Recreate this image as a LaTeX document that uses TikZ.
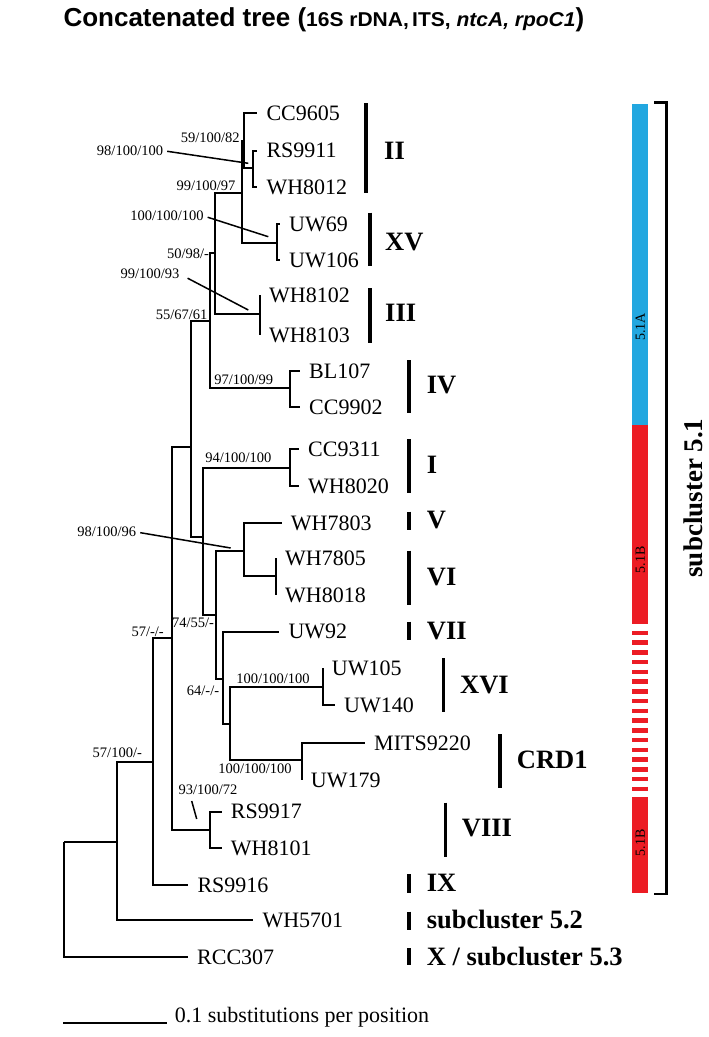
\documentclass[tikz,border=0pt]{standalone}
\usepackage{fontspec}
\setmainfont{Liberation Serif}
\newfontfamily\titlefont{Liberation Sans}
\newfontfamily\titlesmall[FakeStretch=1.05]{Liberation Sans}
\usetikzlibrary{positioning}
\definecolor{barblue}{RGB}{34,167,224}
\definecolor{barred}{RGB}{236,28,36}

\tikzset{
  branch/.style={line width=2pt},
  callout/.style={line width=1.5pt},
  cladebar/.style={line width=3.4pt},
  taxon/.style={anchor=west, font=\fontsize{22}{26}\selectfont, inner xsep=9pt, inner ysep=0pt, text height=14.5pt, text depth=0pt},
  support/.style={font=\fontsize{14.5}{17}\selectfont, inner sep=0pt, text height=9.6pt, text depth=0pt},
  clade/.style={anchor=west, font=\fontsize{26.5}{30}\selectfont\bfseries, inner sep=0pt, text height=17.4pt, text depth=0pt},
  barlabel/.style={rotate=90, font=\fontsize{14}{16}\selectfont, inner sep=0pt},
}

\begin{document}
\begin{tikzpicture}[x=1pt,y=-1pt]
\useasboundingbox (0,0) rectangle (709,1037);

% title
\node[anchor=base west, inner sep=0pt] (title) at (63.3,26.7)
  {\titlefont\bfseries\fontsize{26}{30}\selectfont Concatenated tree ({\titlesmall\fontsize{20}{22}\selectfont 16S rDNA,\,ITS, \itshape ntcA, rpoC1})};

% internal nodes (at the stem)
\coordinate (root) at (64,841.7);
\coordinate (n117) at (117.3,841.7);
\coordinate (n152) at (152.7,762.3);
\coordinate (n171) at (171.7,638);
\coordinate (n191) at (191,446.7);
\coordinate (n210) at (210,320.7);
\coordinate (n215) at (215,252.7);
\coordinate (n241) at (241.7,192.7);
\coordinate (n243) at (243.5,141);
\coordinate (nRW) at (252.7,168.3);
\coordinate (nUW) at (276.7,243.3);
\coordinate (nIII) at (260,314);
\coordinate (nIV) at (290,388);
\coordinate (n203) at (203.3,536.7);
\coordinate (nI) at (290,467.7);
\coordinate (n216) at (216,615);
\coordinate (nVVI) at (244,550.7);
\coordinate (nVI) at (276,576);
\coordinate (n223) at (223.3,679);
\coordinate (n230) at (230,724);
\coordinate (nXVI) at (322.7,687.3);
\coordinate (nCRD) at (301.7,760);
\coordinate (nVIII) at (210,830);

% leaves
\node[taxon] (cc9605) at (257.3,113.3) {CC9605};
\node[taxon] (rs9911) at (257.3,150.7) {RS9911};
\node[taxon] (wh8012) at (257.3,187.3) {WH8012};
\node[taxon] (uw69) at (280,224) {UW69};
\node[taxon] (uw106) at (280,260) {UW106};
\node[taxon] (wh8102) at (260,295) {WH8102};
\node[taxon] (wh8103) at (260,335) {WH8103};
\node[taxon] (bl107) at (300,371) {BL107};
\node[taxon] (cc9902) at (300,407) {CC9902};
\node[taxon] (cc9311) at (299,449) {CC9311};
\node[taxon] (wh8020) at (299,486) {WH8020};
\node[taxon] (wh7803) at (281.7,523) {WH7803};
\node[taxon] (wh7805) at (276,558) {WH7805};
\node[taxon] (wh8018) at (276,595) {WH8018};
\node[taxon] (uw92) at (279.3,631.7) {UW92};
\node[taxon] (uw105) at (322.7,668) {UW105};
\node[taxon] (uw140) at (335,705) {UW140};
\node[taxon] (mits9220) at (365,743.3) {MITS9220};
\node[taxon] (uw179) at (301.7,780) {UW179};
\node[taxon] (rs9917) at (221.7,811.7) {RS9917};
\node[taxon] (wh8101) at (221.7,848.3) {WH8101};
\node[taxon] (rs9916) at (188.3,885) {RS9916};
\node[taxon] (wh5701) at (253.3,920) {WH5701};
\node[taxon] (rcc307) at (188,957.3) {RCC307};

% branches
\draw[branch] (root) |- (n117);
\draw[branch] (root) |- (rcc307.west);
\draw[branch] (n117) |- (n152);
\draw[branch] (n117) |- (wh5701.west);
\draw[branch] (n152) |- (n171);
\draw[branch] (n152) |- (rs9916.west);
\draw[branch] (n171) |- (n191);
\draw[branch] (n171) |- (nVIII);
\draw[branch] (nVIII) |- (rs9917.west);
\draw[branch] (nVIII) |- (wh8101.west);
\draw[branch] (n191) |- (n210);
\draw[branch] (n191) |- (n203);
\draw[branch] (n210) |- (n215);
\draw[branch] (n210) |- (nIV);
\draw[branch] (nIV) |- (bl107.west);
\draw[branch] (nIV) |- (cc9902.west);
\draw[branch] (n215) |- (n241);
\draw[branch] (n215) |- (nIII);
\draw[branch] (nIII) |- (wh8102.west);
\draw[branch] (nIII) |- (wh8103.west);
\draw[branch] (n241) |- (n243);
\draw[branch] (n241) |- (nUW);
\draw[branch] (nUW) |- (uw69.west);
\draw[branch] (nUW) |- (uw106.west);
\draw[branch] (n243) |- (cc9605.west);
\draw[branch] (n243) |- (nRW);
\draw[branch] (nRW) |- (rs9911.west);
\draw[branch] (nRW) |- (wh8012.west);
\draw[branch] (n203) |- (nI);
\draw[branch] (n203) |- (n216);
\draw[branch] (nI) |- (cc9311.west);
\draw[branch] (nI) |- (wh8020.west);
\draw[branch] (n216) |- (nVVI);
\draw[branch] (n216) |- (n223);
\draw[branch] (nVVI) |- (wh7803.west);
\draw[branch] (nVVI) |- (nVI);
\draw[branch] (nVI) |- (wh7805.west);
\draw[branch] (nVI) |- (wh8018.west);
\draw[branch] (n223) |- (uw92.west);
\draw[branch] (n223) |- (n230);
\draw[branch] (n230) |- (nXVI);
\draw[branch] (n230) |- (nCRD);
\draw[branch] (nXVI) |- (uw105.west);
\draw[branch] (nXVI) |- (uw140.west);
\draw[branch] (nCRD) |- (mits9220.west);
\draw[branch] (nCRD) |- (uw179.west);

% support values
\node[support] (s59) at (210.3,137.3) {59/100/82};
\node[support] (s98a) at (130,150.7) {98/100/100};
\node[support] (s99a) at (206,186) {99/100/97};
\node[support] (s100a) at (167,216) {100/100/100};
\node[support] (s50) at (188,254) {50/98/-};
\node[support] (s99b) at (150,274) {99/100/93};
\node[support] (s55) at (181.7,315) {55/67/61};
\node[support] (s97) at (243.7,380) {97/100/99};
\node[support] (s94) at (238.3,458) {94/100/100};
\node[support] (s98b) at (106.7,532) {98/100/96};
\node[support] (s74) at (193,623) {74/55/-};
\node[support] (s57a) at (147.7,632) {57/-/-};
\node[support] (s100b) at (273,679) {100/100/100};
\node[support] (s64) at (203,691) {64/-/-};
\node[support] (s57b) at (117.3,753) {57/100/-};
\node[support] (s100c) at (255,769) {100/100/100};
\node[support] (s93) at (208,790) {93/100/72};

% pointers from values to their nodes
\coordinate (p98a) at (248.3,163.3);
\coordinate (p100a) at (268.3,236.7);
\coordinate (p99b) at (248.3,310);
\coordinate (p98b) at (230.7,548);
\coordinate (p93a) at (191.7,801);
\coordinate (p93b) at (196.7,819);
\draw[callout, shorten <=4pt] (s98a.east) -- (p98a);
\draw[callout, shorten <=4pt] (s100a.east) -- (p100a);
\draw[callout, shorten <=9pt] (s99b.east) -- (p99b);
\draw[callout, shorten <=4pt] (s98b.east) -- (p98b);
\draw[callout] (p93a) -- (p93b);

% clade bars
\draw[cladebar] (366,103.3) -- (366,193.3);
\node[clade] (II) at (384,151) {II};
\draw[cladebar] (370,212.7) -- (370,266);
\node[clade] (XV) at (385,242) {XV};
\draw[cladebar] (370,288) -- (370,342.7);
\node[clade] (III) at (385,313) {III};
\draw[cladebar] (409,360) -- (409,413.3);
\node[clade] (IV) at (426.7,385) {IV};
\draw[cladebar] (409,439) -- (409,493);
\node[clade] (I) at (426.7,465) {I};
\draw[cladebar] (409,511.7) -- (409,530);
\node[clade] (V) at (426.7,520) {V};
\draw[cladebar] (409,550.7) -- (409,605);
\node[clade] (VI) at (426.7,577) {VI};
\draw[cladebar] (409,621.7) -- (409,640);
\node[clade] (VII) at (426.7,631) {VII};
\draw[cladebar] (443.3,658.3) -- (443.3,712.3);
\node[clade] (XVI) at (460,685) {XVI};
\draw[cladebar] (500,734.3) -- (500,788.3);
\node[clade] (CRD1) at (516.7,760) {CRD1};
\draw[cladebar] (445.7,802.7) -- (445.7,856.7);
\node[clade] (VIII) at (461.7,828) {VIII};
\draw[cladebar] (409,874) -- (409,892.7);
\node[clade] (IX) at (426.7,883) {IX};
\draw[cladebar] (409,911.7) -- (409,930);
\node[clade] (sc52) at (426.7,920) {subcluster 5.2};
\draw[cladebar] (409,948.3) -- (409,965);
\node[clade] (sc53) at (426.7,957) {X / subcluster 5.3};

% 5.1A / 5.1B strip
\fill[barblue] (632.3,104) rectangle (648.3,425);
\fill[barred] (632.3,425) rectangle (648.3,624);
\draw[barred, line width=16pt, dash pattern=on 4.3pt off 5.45pt] (640.3,630.7) -- (640.3,791.5);
\fill[barred] (632.3,796.5) rectangle (648.3,893.3);
\node[barlabel] (A51) at (640.3,326.7) {5.1A};
\node[barlabel] (B51a) at (640.3,560) {5.1B};
\node[barlabel] (B51b) at (640.3,843) {5.1B};

% subcluster 5.1 bracket
\draw[line width=2.5pt] (654,102.7) -- (666.7,102.7) -- (666.7,894) -- (654,894);
\node[rotate=90, font=\fontsize{27}{30}\selectfont\bfseries, inner sep=0pt] (sc51) at (693,498) {subcluster 5.1};

% scale bar
\coordinate (sb0) at (63.3,1022.7);
\coordinate (sb1) at (166.7,1022.7);
\draw[branch] (sb0) -- (sb1);
\node[font=\fontsize{22}{26}\selectfont, inner sep=0pt, right=8pt of sb1, anchor=base west] (sbtext) {0.1 substitutions per position};

\end{tikzpicture}
\end{document}
